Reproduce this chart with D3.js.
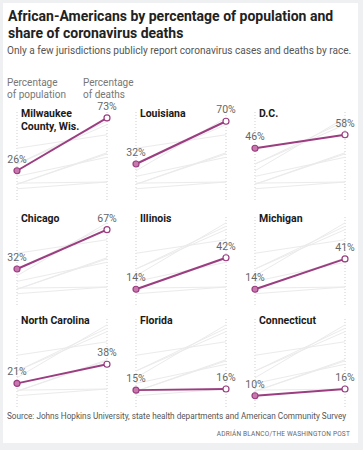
<!DOCTYPE html>
<html>
<head>
<meta charset="utf-8">
<script src="https://cdn.jsdelivr.net/npm/d3@7"></script>
<style>
  html, body { margin: 0; padding: 0; background: #eef0f2; }
  svg { display: block; }
</style>
</head>
<body>
<svg id="chart" width="363" height="450"></svg>
<script>
const names = [["Milwaukee", "County, Wis."], ["Louisiana"], ["D.C."], ["Chicago"], ["Illinois"], ["Michigan"], ["North Carolina"], ["Florida"], ["Connecticut"]];
const population = [26, 32, 46, 32, 14, 14, 21, 15, 10];
const deaths = [73, 70, 58, 67, 42, 41, 38, 16, 16];
const yTicks = [0, 80];

const svg = d3.select("#chart");
const font = "Roboto, 'Liberation Sans', Arial, sans-serif";

svg.append("rect").attr("x", 3).attr("y", 3).attr("width", 355).attr("height", 440).attr("fill", "#fff");

svg.append("text").attr("x", 8).attr("y", 21)
  .attr("font-family", font).attr("font-weight", 700).attr("font-size", 14).attr("fill", "#222")
  .text("African-Americans by percentage of population and");
svg.append("text").attr("x", 8).attr("y", 38)
  .attr("font-family", font).attr("font-weight", 700).attr("font-size", 14).attr("fill", "#222")
  .text("share of coronavirus deaths");
svg.append("text").attr("x", 7).attr("y", 54)
  .attr("font-family", font).attr("font-size", 10.1).attr("fill", "#555")
  .text("Only a few jurisdictions publicly report coronavirus cases and deaths by race.");

[["Percentage", "of population", 7], ["Percentage", "of deaths", 83]].forEach(([a, b, x]) => {
  const t = svg.append("text").attr("font-family", font).attr("font-size", 10).attr("fill", "#777");
  t.append("tspan").attr("x", x).attr("y", 86).text(a);
  t.append("tspan").attr("x", x).attr("y", 98).text(b);
});

const colX = [17, 136, 255];
const rowY0 = [200, 305, 407];
const panelW = 90;

const purple = "#9b3d80";

names.forEach((nm, i) => {
  const col = i % 3, row = Math.floor(i / 3);
  const g = svg.append("g").attr("transform", `translate(${colX[col]},0)`);
  const x = d3.scalePoint().domain(["pop", "death"]).range([0, panelW]);
  const y = d3.scaleLinear().domain(yTicks).range([rowY0[row], rowY0[row] - 90]);

  ["pop", "death"].forEach(k => {
    g.append("line").attr("x1", x(k)).attr("x2", x(k))
      .attr("y1", y(0)).attr("y2", y(80) + 2)
      .attr("stroke", "#cfcfcf").attr("stroke-width", 1).attr("stroke-dasharray", "1,2");
  });

  const line = d3.line().x(d => x(d[0])).y(d => y(d[1]));

  names.forEach((o, j) => {
    if (j === i) return;
    g.append("path").attr("d", line([["pop", population[j]], ["death", deaths[j]]]))
      .attr("fill", "none").attr("stroke", "#ebebeb").attr("stroke-width", 1);
  });

  const nt = g.append("text").attr("font-family", font).attr("font-weight", 700)
    .attr("font-size", 10.5).attr("fill", "#1a1a1a");
  nm.forEach((s, k) => nt.append("tspan").attr("x", 4).attr("y", y(0) - 83 + k * 13).text(s));

  g.append("path").attr("d", line([["pop", population[i]], ["death", deaths[i]]]))
    .attr("fill", "none").attr("stroke", purple).attr("stroke-width", 2);

  g.append("circle").attr("cx", x("pop")).attr("cy", y(population[i])).attr("r", 3)
    .attr("fill", "#c779ad").attr("stroke", purple).attr("stroke-width", 1.2);
  g.append("circle").attr("cx", x("death")).attr("cy", y(deaths[i])).attr("r", 3)
    .attr("fill", "#fff").attr("stroke", purple).attr("stroke-width", 1.2);

  g.append("text").attr("x", x("pop")).attr("y", y(population[i]) - 8)
    .attr("text-anchor", "middle").attr("font-family", font).attr("font-size", 10.5).attr("fill", "#666")
    .text(population[i] + "%");
  g.append("text").attr("x", x("death")).attr("y", y(deaths[i]) - 8)
    .attr("text-anchor", "middle").attr("font-family", font).attr("font-size", 10.5).attr("fill", "#666")
    .text(deaths[i] + "%");
});

svg.append("text").attr("x", 7).attr("y", 419)
  .attr("font-family", font).attr("font-size", 8.2).attr("fill", "#555")
  .text("Source: Johns Hopkins University, state health departments and American Community Survey");
svg.append("text").attr("x", 350).attr("y", 436).attr("text-anchor", "end")
  .attr("font-family", font).attr("font-size", 6.5).attr("fill", "#666").attr("letter-spacing", 0.2)
  .text("ADRIÁN BLANCO/THE WASHINGTON POST");
</script>
</body>
</html>
